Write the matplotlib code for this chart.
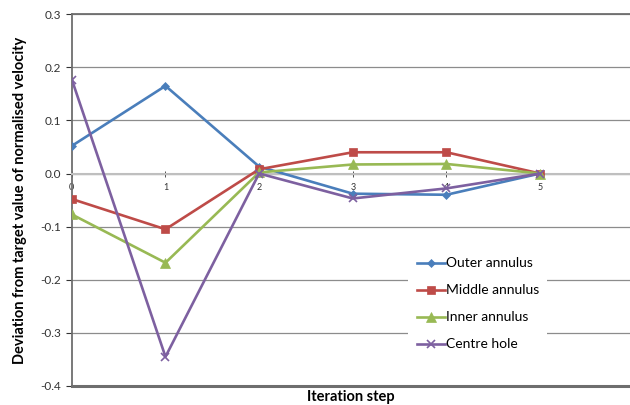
import matplotlib
matplotlib.use("Agg")
import matplotlib.pyplot as plt

steps = [0, 1, 2, 3, 4, 5]
step_labels = ["0", "1", "2", "3", "4", "5"]
outer = [0.052, 0.165, 0.013, -0.038, -0.040, 0.0]
middle = [-0.048, -0.105, 0.008, 0.040, 0.040, 0.0]
inner = [-0.077, -0.168, 0.002, 0.017, 0.018, 0.0]
centre = [0.177, -0.345, 0.0, -0.047, -0.028, 0.0]

plt.rcParams["font.family"] = ["Lato", "DejaVu Sans"]

fig = plt.figure(figsize=(6.3, 4.05), dpi=100)
ax = fig.add_axes([0.114, 0.047, 0.886, 0.918])

series = [
    ("Outer annulus", outer, "#4A7EBB", "D", 4.5),
    ("Middle annulus", middle, "#BE4B48", "s", 6),
    ("Inner annulus", inner, "#98B954", "^", 6.5),
    ("Centre hole", centre, "#7D60A0", "x", 6),
]
for name, vals, col, mk, ms in series:
    ax.plot(steps, vals, color=col, marker=mk, markersize=ms, lw=1.9,
            markeredgewidth=1.2 if mk == "x" else 0.5, label=name, zorder=3)

ax.set_xlim(0, 5.96)
ax.set_ylim(-0.4, 0.3)
ax.set_yticks([-0.4, -0.3, -0.2, -0.1, 0.0, 0.1, 0.2, 0.3])
ax.yaxis.set_major_formatter(matplotlib.ticker.FormatStrFormatter("%.1f"))
ax.tick_params(axis="y", labelsize=8.5, colors="#333333", length=4, width=0.8,
               direction="out", pad=4)
ax.grid(axis="y", color="#8c8c8c", lw=0.9, zorder=0)

# category axis crosses at zero
ax.spines["bottom"].set_position(("data", 0))
ax.spines["bottom"].set_color("#bfbfbf")
ax.spines["bottom"].set_linewidth(1.5)
ax.set_xticks(steps)
ax.set_xticklabels(step_labels)
ax.tick_params(axis="x", labelsize=6.5, colors="#333333", direction="inout",
               length=4, width=0.6, pad=5)
ax.spines["right"].set_visible(False)
for s in ("left", "top"):
    ax.spines[s].set_color("#6e6e6e")
    ax.spines[s].set_linewidth(1.3)
ax.axhline(-0.4, color="#6e6e6e", lw=2.2, clip_on=False, zorder=4)

ax.set_ylabel("Deviation from target value of normalised velocity",
              fontsize=10.5, fontweight="bold", labelpad=9)
fig.text(0.557, 0.003, "Iteration step", ha="center", va="bottom",
         fontsize=10.5, fontweight="bold")

leg = ax.legend(loc="upper left", bbox_to_anchor=(0.603, 0.368), frameon=True,
                fontsize=10, handlelength=2.0, handletextpad=0.1,
                labelspacing=1.08, borderpad=0.6, borderaxespad=0)
leg.get_frame().set_edgecolor("none")
leg.get_frame().set_facecolor("white")
leg.get_frame().set_alpha(1.0)
leg.set_zorder(5)

fig.savefig("out.png", dpi=100)
